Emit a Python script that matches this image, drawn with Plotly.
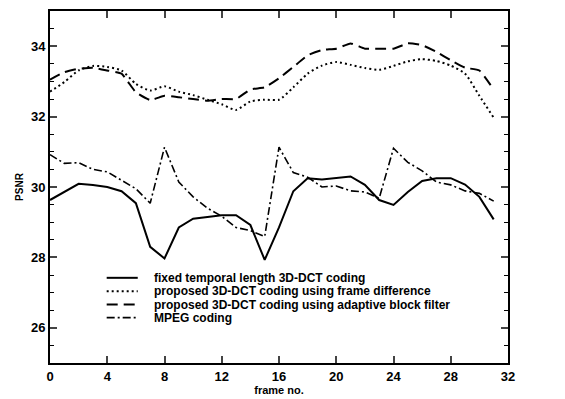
import plotly.graph_objects as go

frames = list(range(32))
fixed_3d_dct = [29.63, 29.86, 30.09, 30.06, 30.00, 29.88, 29.54, 28.30, 27.97, 28.85,
                29.10, 29.15, 29.20, 29.20, 28.92, 27.93, 28.85, 29.88, 30.25, 30.21,
                30.26, 30.30, 30.06, 29.63, 29.49, 29.86, 30.17, 30.25, 30.25, 30.07,
                29.72, 29.08]
frame_difference = [32.71, 32.98, 33.31, 33.44, 33.41, 33.31, 32.93, 32.74, 32.86, 32.71,
                    32.61, 32.48, 32.35, 32.19, 32.43, 32.48, 32.48, 32.83, 33.22, 33.45,
                    33.55, 33.47, 33.38, 33.33, 33.44, 33.57, 33.63, 33.58, 33.45, 33.22,
                    32.59, 31.97]
adaptive_block = [33.05, 33.26, 33.36, 33.39, 33.31, 33.22, 32.69, 32.47, 32.59, 32.55,
                  32.50, 32.45, 32.50, 32.50, 32.77, 32.83, 33.09, 33.41, 33.74, 33.89,
                  33.93, 34.08, 33.93, 33.93, 33.93, 34.08, 34.03, 33.84, 33.60, 33.39,
                  33.31, 32.77]
mpeg = [30.92, 30.67, 30.69, 30.50, 30.43, 30.18, 29.95, 29.54, 31.13, 30.14,
        29.72, 29.40, 29.17, 28.85, 28.76, 28.59, 31.13, 30.41, 30.28, 30.00,
        30.03, 29.89, 29.86, 29.68, 31.10, 30.70, 30.46, 30.14, 30.06, 29.89,
        29.82, 29.60]

names = ["fixed temporal length 3D-DCT coding",
         "proposed 3D-DCT coding using frame difference",
         "proposed 3D-DCT coding using adaptive block filter",
         "MPEG coding"]
x_ticks = [0, 4, 8, 12, 16, 20, 24, 28, 32]
y_ticks = [26, 28, 30, 32, 34]

series = [fixed_3d_dct, frame_difference, adaptive_block, mpeg]
styles = [
    dict(color="black", width=2, dash="solid"),
    dict(color="black", width=2, dash="2px,3px", shape="spline", smoothing=0.6),
    dict(color="black", width=2, dash="11px,6px", shape="spline", smoothing=0.4),
    dict(color="black", width=1.6, dash="8px,3px,2px,3px"),
]

fig = go.Figure()
for name, vals, st in zip(names, series, styles):
    fig.add_trace(go.Scatter(x=frames, y=vals, name=name, mode="lines", line=st,
                             showlegend=False))

# Manual legend (in-plot key, tight row spacing like the original)
key_x0, key_x1, key_text_x = 3.96, 6.13, 7.15
key_rows = [27.42, 27.04, 26.66, 26.29]
font_fam = "Liberation Sans"
for name, st, ky in zip(names, styles, key_rows):
    fig.add_shape(type="line", xref="x", yref="y", x0=key_x0, x1=key_x1, y0=ky, y1=ky,
                  line=dict(color="black", width=st["width"], dash=st["dash"]))
    fig.add_annotation(x=key_text_x, y=ky, xref="x", yref="y", text=name,
                       showarrow=False, xanchor="left", yanchor="middle",
                       font=dict(size=12, family=font_fam, color="black", weight="bold"))

fig.update_layout(
    width=557, height=391,
    margin=dict(l=42, r=57, t=1, b=36),
    plot_bgcolor="white", paper_bgcolor="white",
    font=dict(family=font_fam, color="black", size=13, weight="bold"),
    showlegend=False,
    xaxis=dict(range=[0, 32], tickvals=x_ticks, ticks="inside", ticklen=7, tickwidth=1.5,
               showline=True, linecolor="black", linewidth=1.8, mirror="ticks",
               showgrid=False, zeroline=False,
               title=dict(text="frame no.", font=dict(size=11), standoff=4)),
    yaxis=dict(range=[25, 35], tickvals=y_ticks, ticks="inside", ticklen=7, tickwidth=1.5,
               showline=True, linecolor="black", linewidth=1.8, mirror="ticks",
               showgrid=False, zeroline=False,
               minor=dict(dtick=0.5, ticks="inside", ticklen=4, tickwidth=1.2, tickcolor="black"),
               title=dict(text="PSNR", font=dict(size=10), standoff=6)),
)

fig.write_html("out.html")
